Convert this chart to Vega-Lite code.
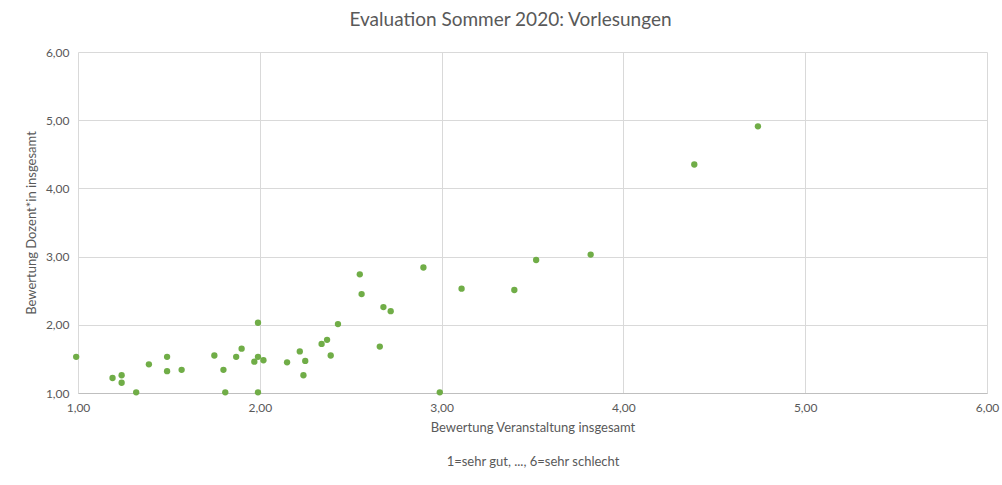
{
  "$schema": "https://vega.github.io/schema/vega-lite/v6.json",
  "autosize": {"type": "none"},
  "width": 909,
  "height": 341,
  "padding": {"left": 78, "top": 52, "right": 15, "bottom": 92},
  "background": "white",
  "title": {
    "text": "Evaluation Sommer 2020: Vorlesungen",
    "font": "Lato",
    "fontSize": 19,
    "fontWeight": "normal",
    "color": "#595959",
    "anchor": "middle",
    "dx": -22,
    "offset": 16
  },
  "config": {
    "locale": {"number": {"decimal": ",", "thousands": ".", "grouping": [3], "currency": ["", " €"]}},
    "view": {"stroke": null},
    "font": "Lato"
  },
  "data": {
    "values": [
      {"veranstaltung": 0.99, "dozent": 1.53},
      {"veranstaltung": 1.19, "dozent": 1.22},
      {"veranstaltung": 1.24, "dozent": 1.26},
      {"veranstaltung": 1.24, "dozent": 1.15},
      {"veranstaltung": 1.32, "dozent": 1.01},
      {"veranstaltung": 1.39, "dozent": 1.42},
      {"veranstaltung": 1.49, "dozent": 1.53},
      {"veranstaltung": 1.49, "dozent": 1.32},
      {"veranstaltung": 1.57, "dozent": 1.34},
      {"veranstaltung": 1.75, "dozent": 1.55},
      {"veranstaltung": 1.80, "dozent": 1.34},
      {"veranstaltung": 1.81, "dozent": 1.01},
      {"veranstaltung": 1.87, "dozent": 1.53},
      {"veranstaltung": 1.90, "dozent": 1.65},
      {"veranstaltung": 1.97, "dozent": 1.46},
      {"veranstaltung": 1.99, "dozent": 1.53},
      {"veranstaltung": 1.99, "dozent": 2.03},
      {"veranstaltung": 1.99, "dozent": 1.01},
      {"veranstaltung": 2.02, "dozent": 1.48},
      {"veranstaltung": 2.15, "dozent": 1.45},
      {"veranstaltung": 2.22, "dozent": 1.61},
      {"veranstaltung": 2.25, "dozent": 1.47},
      {"veranstaltung": 2.24, "dozent": 1.26},
      {"veranstaltung": 2.34, "dozent": 1.72},
      {"veranstaltung": 2.37, "dozent": 1.78},
      {"veranstaltung": 2.39, "dozent": 1.55},
      {"veranstaltung": 2.43, "dozent": 2.01},
      {"veranstaltung": 2.55, "dozent": 2.74},
      {"veranstaltung": 2.56, "dozent": 2.45},
      {"veranstaltung": 2.66, "dozent": 1.68},
      {"veranstaltung": 2.68, "dozent": 2.26},
      {"veranstaltung": 2.72, "dozent": 2.20},
      {"veranstaltung": 2.90, "dozent": 2.84},
      {"veranstaltung": 2.99, "dozent": 1.01},
      {"veranstaltung": 3.11, "dozent": 2.53},
      {"veranstaltung": 3.40, "dozent": 2.51},
      {"veranstaltung": 3.52, "dozent": 2.95},
      {"veranstaltung": 3.82, "dozent": 3.03},
      {"veranstaltung": 4.39, "dozent": 4.35},
      {"veranstaltung": 4.74, "dozent": 4.91}
    ]
  },
  "mark": {"type": "point", "filled": true, "size": 40, "opacity": 1, "color": "#70ad47"},
  "encoding": {
    "x": {
      "field": "veranstaltung",
      "type": "quantitative",
      "scale": {"domain": [1, 6], "nice": false, "zero": false},
      "axis": {
        "values": [1, 2, 3, 4, 5, 6],
        "format": ".2f",
        "title": ["Bewertung Veranstaltung insgesamt", "1=sehr gut, ...,  6=sehr schlecht"],
        "titleFont": "Lato",
        "titleFontSize": 13,
        "titleFontWeight": "normal",
        "titleColor": "#595959",
        "titleLineHeight": 34,
        "titleBaseline": "alphabetic",
        "titlePadding": 18,
        "labelFont": "Lato",
        "labelFontSize": 12,
        "labelColor": "#595959",
        "labelPadding": 9,
        "ticks": false,
        "domainColor": "#bfbfbf",
        "gridColor": "#d9d9d9",
        "labelFlush": false
      }
    },
    "y": {
      "field": "dozent",
      "type": "quantitative",
      "scale": {"domain": [1, 6], "nice": false, "zero": false},
      "axis": {
        "values": [1, 2, 3, 4, 5, 6],
        "format": ".2f",
        "title": "Bewertung Dozent*in insgesamt",
        "titleFont": "Lato",
        "titleFontSize": 13,
        "titleFontWeight": "normal",
        "titleColor": "#595959",
        "titlePadding": 7,
        "labelFont": "Lato",
        "labelFontSize": 12,
        "labelColor": "#595959",
        "labelPadding": 9,
        "ticks": false,
        "domain": false,
        "gridColor": "#d9d9d9",
        "labelFlush": false
      }
    }
  }
}
